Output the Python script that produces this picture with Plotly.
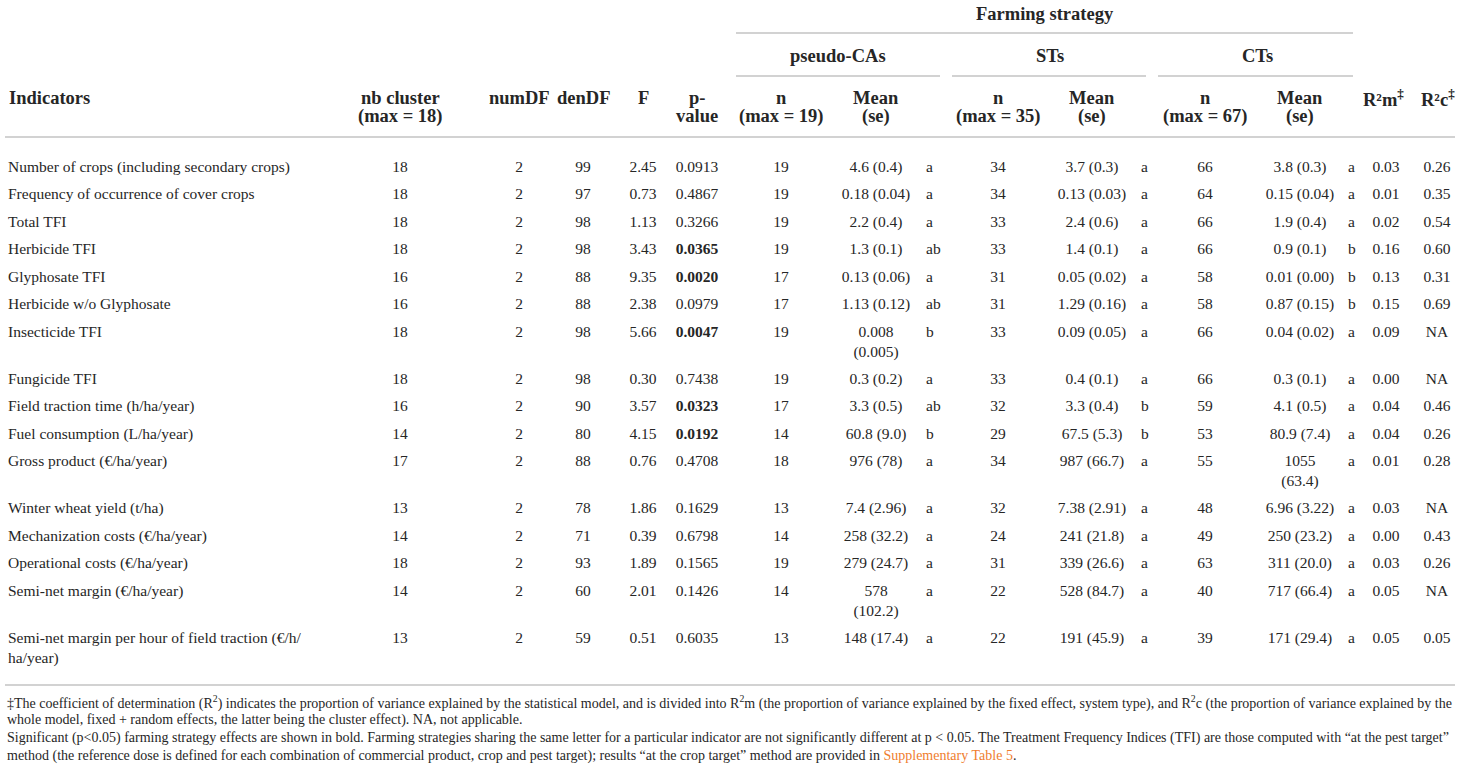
import re

import plotly.graph_objects as go

# ---- table data ----
indicators = [
    "Number of crops (including secondary crops)",
    "Frequency of occurrence of cover crops",
    "Total TFI",
    "Herbicide TFI",
    "Glyphosate TFI",
    "Herbicide w/o Glyphosate",
    "Insecticide TFI",
    "Fungicide TFI",
    "Field traction time (h/ha/year)",
    "Fuel consumption (L/ha/year)",
    "Gross product (€/ha/year)",
    "Winter wheat yield (t/ha)",
    "Mechanization costs (€/ha/year)",
    "Operational costs (€/ha/year)",
    "Semi-net margin (€/ha/year)",
    "Semi-net margin per hour of field traction (€/h/ha/year)",
]
nb_cluster = [18, 18, 18, 18, 16, 16, 18, 18, 16, 14, 17, 13, 14, 18, 14, 13]
num_df = [2, 2, 2, 2, 2, 2, 2, 2, 2, 2, 2, 2, 2, 2, 2, 2]
den_df = [99, 97, 98, 98, 88, 88, 98, 98, 90, 80, 88, 78, 71, 93, 60, 59]
f_value = ["2.45", "0.73", "1.13", "3.43", "9.35", "2.38", "5.66", "0.30",
           "3.57", "4.15", "0.76", "1.86", "0.39", "1.89", "2.01", "0.51"]
p_value = ["0.0913", "0.4867", "0.3266", "0.0365", "0.0020", "0.0979", "0.0047", "0.7438",
           "0.0323", "0.0192", "0.4708", "0.1629", "0.6798", "0.1565", "0.1426", "0.6035"]

pca_n = [19, 19, 19, 19, 17, 17, 19, 19, 17, 14, 18, 13, 14, 19, 14, 13]
pca_mean = ["4.6 (0.4)", "0.18 (0.04)", "2.2 (0.4)", "1.3 (0.1)", "0.13 (0.06)", "1.13 (0.12)",
            "0.008 (0.005)", "0.3 (0.2)", "3.3 (0.5)", "60.8 (9.0)", "976 (78)", "7.4 (2.96)",
            "258 (32.2)", "279 (24.7)", "578 (102.2)", "148 (17.4)"]
pca_grp = ["a", "a", "a", "ab", "a", "ab", "b", "a", "ab", "b", "a", "a", "a", "a", "a", "a"]

st_n = [34, 34, 33, 33, 31, 31, 33, 33, 32, 29, 34, 32, 24, 31, 22, 22]
st_mean = ["3.7 (0.3)", "0.13 (0.03)", "2.4 (0.6)", "1.4 (0.1)", "0.05 (0.02)", "1.29 (0.16)",
           "0.09 (0.05)", "0.4 (0.1)", "3.3 (0.4)", "67.5 (5.3)", "987 (66.7)", "7.38 (2.91)",
           "241 (21.8)", "339 (26.6)", "528 (84.7)", "191 (45.9)"]
st_grp = ["a", "a", "a", "a", "a", "a", "a", "a", "b", "b", "a", "a", "a", "a", "a", "a"]

ct_n = [66, 64, 66, 66, 58, 58, 66, 66, 59, 53, 55, 48, 49, 63, 40, 39]
ct_mean = ["3.8 (0.3)", "0.15 (0.04)", "1.9 (0.4)", "0.9 (0.1)", "0.01 (0.00)", "0.87 (0.15)",
           "0.04 (0.02)", "0.3 (0.1)", "4.1 (0.5)", "80.9 (7.4)", "1055 (63.4)", "6.96 (3.22)",
           "250 (23.2)", "311 (20.0)", "717 (66.4)", "171 (29.4)"]
ct_grp = ["a", "a", "a", "b", "b", "b", "a", "a", "a", "a", "a", "a", "a", "a", "a", "a"]

r2m = ["0.03", "0.01", "0.02", "0.16", "0.13", "0.15", "0.09", "0.00",
       "0.04", "0.04", "0.01", "0.03", "0.00", "0.03", "0.05", "0.05"]
r2c = ["0.26", "0.35", "0.54", "0.60", "0.31", "0.69", "NA", "NA",
       "0.46", "0.26", "0.28", "NA", "0.43", "0.26", "NA", "0.05"]

groups = ["pseudo-CAs", "STs", "CTs"]
group_max = [19, 35, 67]

footnotes = [
    "‡The coefficient of determination (R<sup>2</sup>) indicates the proportion of variance explained by the statistical model, "
    "and is divided into R<sup>2</sup>m (the proportion of variance explained by the fixed effect, system type), "
    "and R<sup>2</sup>c (the proportion of variance explained by the",
    "whole model, fixed + random effects, the latter being the cluster effect). NA, not applicable.",
    "Significant (p&lt;0.05) farming strategy effects are shown in bold. Farming strategies sharing the same letter "
    "for a particular indicator are not significantly different at p &lt; 0.05. The Treatment Frequency Indices (TFI) "
    "are those computed with “at the pest target”",
    "method (the reference dose is defined for each combination of commercial product, crop and pest target); "
    "results “at the crop target” method are provided in "
    "<span style='color:#ef7d2d'>Supplementary Table 5</span>.",
]

# ---- styling ----
FONT = "Liberation Serif"
INK = "#262626"
RULE = "#d2d2d2"
SIZE = 15.5
HEAD_SIZE = 18.5
LINE_H = 19.5


def text_em(s):
    """Rough width of a string in em for a serif face"""
    w = 0
    for c in s:
        if c.isdigit():
            w += 0.5
        elif c in ".,: ":
            w += 0.25
        elif c in "()/-":
            w += 0.33
        elif c.isupper():
            w += 0.68
        else:
            w += 0.45
    return w


def wrap(s, max_em):
    """Break a cell on spaces, or after a slash, when it is wider than its column"""
    s = str(s)
    if max_em is None:
        return s
    lines, cur = [], ""
    for sp, tok in re.findall(r"(\s*)([^\s/]*/|\S+)", s):
        cand = cur + sp + tok
        if cur and text_em(cand) > max_em:
            lines.append(cur)
            cur = tok
        else:
            cur = cand
    lines.append(cur)
    return "<br>".join(lines)


p_bold = ["<b>%s</b>" % p if float(p) < 0.05 else p for p in p_value]

# (values, x, alignment, wrap width in em)
columns = [
    (indicators, 8, "left", 20.5),
    (nb_cluster, 400, "center", None),
    (num_df, 519, "center", None),
    (den_df, 583, "center", None),
    (f_value, 643, "center", None),
    (p_bold, 697, "center", None),
    (pca_n, 781, "center", None),
    (pca_mean, 876, "center", 4.5),
    (pca_grp, 926, "left", None),
    (st_n, 998, "center", None),
    (st_mean, 1092, "center", 4.5),
    (st_grp, 1141, "left", None),
    (ct_n, 1205, "center", None),
    (ct_mean, 1300, "center", 4.5),
    (ct_grp, 1348, "left", None),
    (r2m, 1386, "center", None),
    (r2c, 1437, "center", None),
]

cells = [[wrap(v, em) for v in vals] for vals, _, _, em in columns]
n_lines = [max(col[i].count("<br>") + 1 for col in cells) for i in range(len(indicators))]

# first-line centre of every row
row_y = []
y = 168
for n in n_lines:
    row_y.append(y)
    y += 27.5 + (n - 1) * LINE_H

fig = go.Figure()

for (vals, x, align, _), col in zip(columns, cells):
    ys = [row_y[i] + c.count("<br>") * LINE_H / 2 for i, c in enumerate(col)]
    fig.add_trace(
        go.Scatter(
            x=[x] * len(col),
            y=ys,
            text=col,
            mode="text",
            textposition="middle right" if align == "left" else "middle center",
            textfont=dict(family=FONT, size=SIZE, color=INK),
            hoverinfo="skip",
            showlegend=False,
        )
    )

# ---- headers ----
head = dict(family=FONT, size=HEAD_SIZE, color=INK)


def header(text, x, y, anchor="center"):
    # one annotation per line so the header keeps the tight 18px leading
    for k, line in enumerate(text.split("<br>")):
        fig.add_annotation(
            text="<b>%s</b>" % line, x=x, y=y + 18 * k, xref="x", yref="y",
            xanchor=anchor, yanchor="middle", showarrow=False, font=head,
        )


header("Farming strategy", 1045, 14)
for name, x in zip(groups, [838, 1050, 1257]):
    header(name, x, 56)

header("Indicators", 7, 98, anchor="left")
header("nb cluster<br>(max = 18)", 400, 98)
header("numDF", 519, 98)
header("denDF", 583, 98)
header("F", 643, 98)
header("p-<br>value", 697, 98)
for m, xn, xm in zip(group_max, [781, 998, 1205], [876, 1092, 1300]):
    header("n<br>(max = %d)" % m, xn, 98)
    header("Mean<br>(se)", xm, 98)
header("R²m<sup>‡</sup>", 1383, 98)
header("R²c<sup>‡</sup>", 1438, 98)

# ---- rules ----
rules = [
    (736, 1353, 33),
    (736, 940, 76), (952, 1146, 76), (1158, 1353, 76),
    (5, 1455, 137),
    (5, 1455, 685),
]
for x0, x1, yy in rules:
    fig.add_shape(type="line", x0=x0, x1=x1, y0=yy, y1=yy, xref="x", yref="y",
                  line=dict(color=RULE, width=2))

# ---- footnotes ----
for i, note in enumerate(footnotes):
    fig.add_annotation(
        text=note, x=5, y=702 + 18 * i, xref="x", yref="y",
        xanchor="left", yanchor="middle", showarrow=False,
        font=dict(family=FONT, size=14, color=INK),
    )

fig.update_xaxes(range=[0, 1460], visible=False, fixedrange=True)
fig.update_yaxes(range=[770, 0], visible=False, fixedrange=True)
fig.update_layout(
    width=1460,
    height=770,
    margin=dict(l=0, r=0, t=0, b=0),
    plot_bgcolor="white",
    paper_bgcolor="white",
)

fig.write_html(
    "out.html",
    config={"displayModeBar": False},
    post_script="document.body.style.margin='0';document.body.style.overflow='hidden';",
)
